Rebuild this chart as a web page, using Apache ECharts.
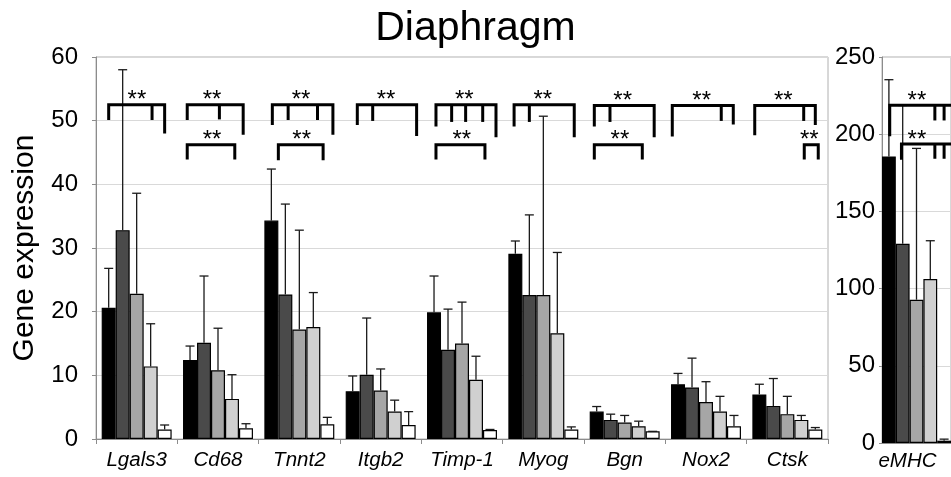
<!DOCTYPE html>
<html>
<head>
<meta charset="utf-8">
<script src="https://cdn.jsdelivr.net/npm/echarts@6/dist/echarts.min.js"></script>
<style>
html,body{margin:0;padding:0;background:#fff;}
#chart{width:951px;height:477px;}
</style>
</head>
<body>
<div id="chart"></div>
<script>
// ---------- data ----------
const categories = ['Lgals3','Cd68','Tnnt2','Itgb2','Timp-1','Myog','Bgn','Nox2','Ctsk'];
const yTicksLeft = [0,10,20,30,40,50,60];
const black    = [20.6,12.4,34.3, 7.5,19.9,29.1,4.3, 8.6,7.0];
const blackErr = [26.8,14.6,42.4, 9.9,25.6,31.1,5.1,10.3,8.6];
const dark     = [32.8,15.1,22.7,10.1,14.0,22.6,3.0, 8.1,5.2];
const darkErr  = [58.0,25.6,36.9,19.0,20.4,35.2,3.9,12.7,9.5];
const mid      = [22.8,10.8,17.2, 7.6,15.0,22.6,2.6, 5.8,3.9];
const midErr   = [38.6,17.4,32.8,11.0,21.5,50.7,3.7, 9.0,6.7];
const light    = [11.4, 6.3,17.6, 4.3, 9.3,16.6,2.0, 4.3,3.0];
const lightErr = [18.1,10.1,23.0, 6.1,13.0,29.3,2.8, 6.7,3.7];
const white    = [ 1.5, 1.7, 2.3, 2.2, 1.4, 1.5,1.2, 2.0,1.5];
const whiteErr = [ 2.2, 2.4, 3.4, 4.3, 1.5, 1.9,1.2, 3.7,1.8];

const categoriesRight = ['eMHC'];
const emhcValues = [185.6,129.0,92.8,106.2,1.5];
const emhcErr    = [235.3,218.6,190.8,131.0,2.5];

// brackets: [category, lineY, fromBar, toBar, leftLegBottom, rightLegBottom]
const bracketsLeft = [
  [0,52.5,0.00,4.00,50.1,48.0],
  [1,52.5,-0.20,3.80,50.1,47.8],
  [1,46.2,-0.20,3.20,43.9,43.9],
  [2,52.5,0.07,4.40,49.3,47.8],
  [2,46.2,0.50,3.70,43.8,43.8],
  [3,52.5,0.33,4.57,49.3,47.6],
  [4,52.5,0.14,4.43,49.1,47.4],
  [4,46.2,0.14,3.64,43.9,43.9],
  [5,52.5,-0.09,4.21,49.1,47.4],
  [6,52.4,-0.17,4.11,49.1,47.4],
  [6,46.2,-0.17,3.26,43.9,43.9],
  [7,52.4,-0.41,3.95,47.5,49.4],
  [8,52.4,-0.33,4.00,47.7,49.3],
  [8,46.2,3.21,4.21,43.9,43.9]
];
// inner ticks: [category, lineY, atBar, bottom]
const ticksLeft = [
  [0,52.5,3.10,50.1],
  [1,52.5,2.10,50.2],
  [2,52.5,1.20,50.1],[2,52.5,3.30,50.1],
  [3,52.5,1.43,49.96],
  [4,52.5,1.26,49.8],[4,52.5,2.26,49.8],[4,52.5,3.48,49.8],
  [5,52.5,1.00,49.8],
  [6,52.4,0.95,49.8],
  [7,52.4,3.09,49.96],
  [8,52.4,3.17,49.96]
];
// stars: [category, atBar, lineY]
const starsLeft = [
  [0,2.02,52.5],[1,1.57,52.5],[1,1.57,46.2],[2,2.12,52.5],[2,2.17,46.2],
  [3,2.38,52.5],[4,2.16,52.5],[4,1.98,46.2],[5,1.96,52.5],[6,1.86,52.4],
  [6,1.66,46.2],[7,1.69,52.4],[8,1.71,52.4],[8,3.57,46.2]
];
const bracketsRight = [
  [0,218.7,0.06,5.5,198.6,198.6],
  [0,193.7,0.91,5.5,183.5,183.5]
];
const ticksRight = [
  [0,218.7,3.33,208.9],[0,218.7,4.00,208.9],
  [0,193.7,3.33,184.1],[0,193.7,4.00,184.1]
];
const starsRight = [[0,2.03,218.7],[0,2.03,193.7]];

// ---------- styling ----------
const barColors = ['#000000','#4a4a4a','#a6a6a6','#d0d0d0','#ffffff'];
const FONT = 'Liberation Sans, Arial, sans-serif';
const GAP_LEFT = 0.14, GAP_RIGHT = 0;

const chart = echarts.init(document.getElementById('chart'), null, {renderer:'canvas'});

function barX(api, cat, bar, gap) {
  const band = api.size([1, 0])[0];
  const bw = band * (1 - gap) / 5;
  const c = api.coord([cat, 0])[0];
  return c + (bar - 2) * bw;
}
function errRender(gap) {
  return function (params, api) {
    const cat = api.value(0), mean = api.value(1), top = api.value(2), bi = api.value(3);
    const x = barX(api, cat, bi, gap);
    const y0 = api.coord([cat, mean])[1];
    const y1 = api.coord([cat, top])[1];
    const st = {stroke:'#1a1a1a', lineWidth:1.3};
    return {type:'group', children:[
      {type:'line', shape:{x1:x,y1:y0,x2:x,y2:y1}, style:st},
      {type:'line', shape:{x1:x-4.5,y1:y1,x2:x+4.5,y2:y1}, style:st}
    ]};
  };
}
function bracketRender(gap) {
  return function (params, api) {
    const cat = api.value(0), y = api.value(1);
    const xa = barX(api, cat, api.value(2), gap), xb = barX(api, cat, api.value(3), gap);
    const py = api.coord([cat, y])[1];
    const pa = api.coord([cat, api.value(4)])[1];
    const pb = api.coord([cat, api.value(5)])[1];
    return {type:'polyline', shape:{points:[[xa,pa],[xa,py],[xb,py],[xb,pb]]},
      style:{stroke:'#000', lineWidth:3, fill:null, lineJoin:'miter'}};
  };
}
function tickRender(gap) {
  return function (params, api) {
    const cat = api.value(0);
    const x = barX(api, cat, api.value(2), gap);
    const py = api.coord([cat, api.value(1)])[1];
    const pb = api.coord([cat, api.value(3)])[1];
    return {type:'line', shape:{x1:x,y1:py,x2:x,y2:pb}, style:{stroke:'#000', lineWidth:3}};
  };
}
function starRender(gap) {
  return function (params, api) {
    const cat = api.value(0);
    const x = barX(api, cat, api.value(1), gap);
    const py = api.coord([cat, api.value(2)])[1];
    return {type:'text', style:{text:'**', x:x, y:py + 8, align:'center', verticalAlign:'bottom',
      fontSize:24, fontFamily:FONT, fill:'#000'}};
  };
}

const leftSeriesData = [black, dark, mid, light, white];
const leftErrData = [blackErr, darkErr, midErr, lightErr, whiteErr];

const series = [];
leftSeriesData.forEach((arr, s) => {
  series.push({type:'bar', xAxisIndex:0, yAxisIndex:0, data:arr, barGap:'0%', barCategoryGap:'14%',
    itemStyle:{color:barColors[s], borderColor:'#000', borderWidth:1.2}, z:2, silent:true});
});
emhcValues.forEach((v, s) => {
  series.push({type:'bar', xAxisIndex:1, yAxisIndex:1, data:[v], barGap:'0%', barCategoryGap:'0%',
    itemStyle:{color:barColors[s], borderColor:'#000', borderWidth:1.2}, z:2, silent:true});
});
const errLeft = [];
leftSeriesData.forEach((arr, s) => arr.forEach((v, i) => errLeft.push([i, v, leftErrData[s][i], s])));
const errRight = emhcValues.map((v, s) => [0, v, emhcErr[s], s]);

series.push({type:'custom', xAxisIndex:0, yAxisIndex:0, renderItem:errRender(GAP_LEFT), data:errLeft, z:3, clip:false, silent:true});
series.push({type:'custom', xAxisIndex:1, yAxisIndex:1, renderItem:errRender(GAP_RIGHT), data:errRight, z:3, clip:false, silent:true});
series.push({type:'custom', xAxisIndex:0, yAxisIndex:0, renderItem:bracketRender(GAP_LEFT), data:bracketsLeft, z:4, clip:false, silent:true});
series.push({type:'custom', xAxisIndex:1, yAxisIndex:1, renderItem:bracketRender(GAP_RIGHT), data:bracketsRight, z:4, clip:false, silent:true});
series.push({type:'custom', xAxisIndex:0, yAxisIndex:0, renderItem:tickRender(GAP_LEFT), data:ticksLeft, z:4, clip:false, silent:true});
series.push({type:'custom', xAxisIndex:1, yAxisIndex:1, renderItem:tickRender(GAP_RIGHT), data:ticksRight, z:4, clip:false, silent:true});
series.push({type:'custom', xAxisIndex:0, yAxisIndex:0, renderItem:starRender(GAP_LEFT), data:starsLeft, z:5, clip:false, silent:true});
series.push({type:'custom', xAxisIndex:1, yAxisIndex:1, renderItem:starRender(GAP_RIGHT), data:starsRight, z:5, clip:false, silent:true});

const axisGray = '#8c8c8c';
const option = {
  backgroundColor:'#fff',
  animation:false,
  title:{text:'Diaphragm', left:'center', top:3,
    textStyle:{fontFamily:FONT, fontSize:41, fontWeight:'normal', color:'#000'}},
  grid:[
    {left:96, top:57, right:123, bottom:38, show:true, borderColor:'#b0b0b0', borderWidth:1, backgroundColor:'transparent'},
    {left:882, top:57, width:74.3, bottom:34, show:true, borderColor:'#b0b0b0', borderWidth:1, backgroundColor:'transparent'}
  ],
  xAxis:[
    {type:'category', gridIndex:0, data:categories,
      axisLine:{lineStyle:{color:axisGray, width:1}},
      axisTick:{show:true, length:5, lineStyle:{color:axisGray}},
      axisLabel:{interval:0, hideOverlap:false, fontFamily:FONT, fontSize:20.5, fontStyle:'italic', color:'#000', margin:11}},
    {type:'category', gridIndex:1, data:categoriesRight,
      axisLine:{lineStyle:{color:axisGray, width:1}},
      axisTick:{show:false},
      axisLabel:{interval:0, hideOverlap:false, fontFamily:FONT, fontSize:20.5, fontStyle:'italic', color:'#000', margin:8, padding:[0,18,0,0]}}
  ],
  yAxis:[
    {type:'value', gridIndex:0, min:yTicksLeft[0], max:yTicksLeft[yTicksLeft.length-1], interval:10,
      name:'Gene expression', nameLocation:'middle', nameGap:56,
      nameTextStyle:{fontFamily:FONT, fontSize:30, color:'#000'},
      axisLine:{show:true, lineStyle:{color:axisGray, width:1}},
      axisTick:{show:true, length:4, lineStyle:{color:axisGray}},
      axisLabel:{fontFamily:FONT, fontSize:24, color:'#000', margin:18},
      splitLine:{lineStyle:{color:'#d9d9d9', width:1}}},
    {type:'value', gridIndex:1, min:0, max:250, interval:50,
      axisLine:{show:true, lineStyle:{color:axisGray, width:1}},
      axisTick:{show:true, length:3, lineStyle:{color:axisGray}},
      axisLabel:{fontFamily:FONT, fontSize:24, color:'#000', margin:7},
      splitLine:{lineStyle:{color:'#d9d9d9', width:1}}}
  ],
  series:series
};
chart.setOption(option);
</script>
</body>
</html>
